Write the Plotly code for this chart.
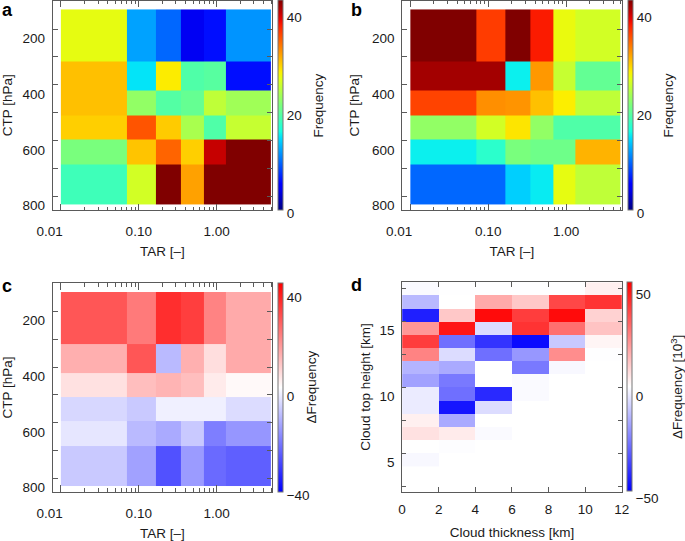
import numpy as np
import plotly.graph_objects as go

W, H = 685, 541

# ---------------- data ----------------
tar_edges = [0.01, 0.07, 0.165, 0.35, 0.68, 1.3, 5.0]
ctp_edges = [130, 317, 421, 508, 595, 684, 826]

# rows: top (low CTP) -> bottom (high CTP); columns: TAR bins
freq_a = [
    [25.7, 10.8, 8.3, 3.1, 4.5, 10.2],
    [29.0, 13.6, 27.0, 17.8, 18.2, 4.5],
    [29.0, 21.3, 18.0, 18.9, 23.6, 22.0],
    [28.3, 33.9, 28.5, 22.5, 17.8, 24.0],
    [20.0, 28.8, 33.2, 28.3, 39.0, 46.0],
    [16.9, 24.6, 43.0, 30.4, 46.0, 47.0],
]
freq_b = [
    [46.0, 35.0, 47.0, 36.5, 25.9, 24.6],
    [40.3, 40.3, 14.1, 30.8, 24.0, 18.8],
    [34.7, 31.2, 31.0, 29.0, 26.9, 23.6],
    [21.3, 24.6, 27.3, 21.3, 17.8, 17.8],
    [14.1, 15.9, 20.0, 19.4, 19.4, 29.6],
    [8.3, 8.3, 12.7, 13.9, 25.7, 23.6],
]
dfreq_c = [
    [28.0, 22.0, 34.6, 32.0, 20.6, 14.0],
    [13.2, 28.0, -11.5, 13.0, 5.4, 14.0],
    [5.0, 10.7, 12.4, 10.7, 3.3, 1.0],
    [-6.6, -9.0, -2.5, -2.5, -2.5, -5.8],
    [-4.1, -11.5, -14.0, -9.0, -21.4, -17.3],
    [-9.0, -15.6, -28.8, -16.5, -24.7, -26.4],
]

thick_edges = [0, 2, 4, 6, 8, 10, 12]
cth_edges = [4, 5, 6, 7, 8, 9, 10, 11, 12, 13, 14, 15, 16, 17, 18]
# rows listed from top (17-18 km) to bottom (4-5 km)
dfreq_d_top_down = [
    [-1.0, -0.3, -0.3, -0.3, -0.3, 3.0],
    [-14, 0, 17, 11, 37, 41],
    [-45, 11, 49, 39, 49, 9],
    [21, 47, -7, 41, 29, 12],
    [39, -29, -41, -49, -11, 2],
    [25, -7, -29, -21, 23, -0.3],
    [-15, -17, 0, -27, -1.4, None],
    [-19, -27, 0, -1, None, None],
    [-4, -29, -43, -1, None, None],
    [-4, -47, -7, None, None, None],
    [3, -17, None, None, None, None],
    [6, 4, -1, None, None, None],
    [0, -0.5, None, None, None, None],
    [-1.5, None, None, None, None, None],
]
dfreq_d = dfreq_d_top_down[::-1]

tar_ticks = [0.01, 0.1, 1.0]
tar_ticktext = ["0.01", "0.10", "1.00"]
tar_minor = [0.02, 0.03, 0.04, 0.05, 0.06, 0.07, 0.08, 0.09,
             0.2, 0.3, 0.4, 0.5, 0.6, 0.7, 0.8, 0.9, 2, 3, 4, 5]
ctp_ticks = [200, 400, 600, 800]
ctp_minor = [300, 500, 700]

# ---------------- styles ----------------
def jet_scale(n=33):
    def seg(t, pts):
        xs = [p[0] for p in pts]; ys = [p[1] for p in pts]
        return float(np.interp(t, xs, ys))
    R = [(0, 0), (0.35, 0), (0.66, 1), (0.89, 1), (1, 0.5)]
    G = [(0, 0), (0.125, 0), (0.375, 1), (0.64, 1), (0.91, 0), (1, 0)]
    B = [(0, 0.5), (0.11, 1), (0.34, 1), (0.65, 0), (1, 0)]
    out = []
    for t in np.linspace(0, 1, n):
        out.append([float(t), "rgb(%d,%d,%d)" % (round(255 * seg(t, R)), round(255 * seg(t, G)), round(255 * seg(t, B)))])
    return out

JET = jet_scale()
BWR = [[0, "rgb(0,0,255)"], [0.5, "rgb(255,255,255)"], [1, "rgb(255,0,0)"]]

FONT = "Liberation Sans, Arial, Helvetica, sans-serif"
FS = 13.5
TXT = "#1a1a1a"
LINE = "#5a5a5a"
NBSP = "\u00a0"

def px2x(p):
    return p / W

def px2y(p):
    return 1 - p / H

fig = go.Figure()

def colorbar(x_px, top_px, bot_px, title, tickvals, ticktext, pad=2):
    return dict(
        x=px2x(x_px), xanchor="left", xpad=0,
        y=px2y(top_px), yanchor="top", ypad=0,
        len=bot_px - top_px, lenmode="pixels",
        thickness=5, thicknessmode="pixels",
        outlinewidth=1, outlinecolor="#777",
        ticks="", tickvals=tickvals, ticktext=[t + NBSP * pad for t in ticktext],
        ticklabelposition="outside bottom",
        tickfont=dict(family=FONT, size=FS, color=TXT),
        title=dict(text=title, side="right", font=dict(family=FONT, size=FS, color=TXT)),
    )

# panel a
fig.add_trace(go.Heatmap(x=tar_edges, y=ctp_edges, z=freq_a, colorscale=JET,
                         zmin=-1.4, zmax=41.6, xaxis="x", yaxis="y",
                         colorbar=colorbar(278.3, 0.5, 210.7, "Frequency", [0, 20, 40], ["0", "20", "40"])))
# panel b
fig.add_trace(go.Heatmap(x=tar_edges, y=ctp_edges, z=freq_b, colorscale=JET,
                         zmin=-1.4, zmax=41.6, xaxis="x2", yaxis="y2",
                         colorbar=colorbar(627.7, 0.5, 210.7, "Frequency", [0, 20, 40], ["0", "20", "40"])))
# panel c
fig.add_trace(go.Heatmap(x=tar_edges, y=ctp_edges, z=dfreq_c, colorscale=BWR,
                         zmin=-42.2, zmax=42.2, xaxis="x3", yaxis="y3",
                         colorbar=colorbar(278.3, 282.7, 491.7, "ΔFrequency", [-40, 0, 40], ["\u221240", "0", "40"])))
# panel d
fig.add_trace(go.Heatmap(x=thick_edges, y=cth_edges, z=dfreq_d, colorscale=BWR,
                         zmin=-51.3, zmax=51.3, xaxis="x4", yaxis="y4", hoverongaps=False,
                         colorbar=colorbar(627.3, 282.3, 491.7, "ΔFrequency [10<sup>3</sup>]", [-50, 0, 50],
                                           ["\u221250", "0", "50"], pad=6)))

def base_axis(**kw):
    d = dict(showline=True, linecolor=LINE, linewidth=1, mirror="ticks",
             ticks="inside", tickcolor=LINE, tickwidth=1,
             showgrid=False, zeroline=False,
             tickfont=dict(family=FONT, size=FS, color=TXT),
             automargin=False)
    d.update(kw)
    return d

def tar_axis(dom_px, anchor, title_standoff):
    texts = [tar_ticktext[0] + NBSP * 6] + tar_ticktext[1:]
    return base_axis(type="log", domain=[px2x(dom_px[0]), px2x(dom_px[1])],
                     range=[-2.106, 0.712], anchor=anchor,
                     tickmode="array", tickvals=tar_ticks, ticktext=texts,
                     ticklen=6.5,
                     minor=dict(tickmode="array", tickvals=tar_minor, ticks="inside", ticklen=3.3, tickcolor=LINE),
                     ticklabelstandoff=9,
                     title=dict(text="TAR [\u2013]", standoff=title_standoff, font=dict(family=FONT, size=FS, color=TXT)))

def ctp_axis(dom_px, anchor):
    return base_axis(domain=[px2y(dom_px[1]), px2y(dom_px[0])], anchor=anchor,
                     range=[847.6, 98.7],
                     tickmode="array", tickvals=ctp_ticks, ticktext=[str(v) for v in ctp_ticks],
                     ticklen=5,
                     minor=dict(tickmode="array", tickvals=ctp_minor, ticks="inside", ticklen=5, tickcolor=LINE),
                     ticklabelshift=-9, ticklabelstandoff=4,
                     title=dict(text="CTP [hPa]", standoff=9, font=dict(family=FONT, size=FS, color=TXT)))

fig.update_layout(
    width=W, height=H, margin=dict(l=0, r=0, t=0, b=0),
    paper_bgcolor="white", plot_bgcolor="white",
    font=dict(family=FONT, size=FS, color=TXT),
    xaxis=tar_axis((52.7, 272.5), "y", 8),
    yaxis=ctp_axis((0.7, 210.0), "x"),
    xaxis2=tar_axis((402.7, 622.5), "y2", 8),
    yaxis2=ctp_axis((0.7, 210.0), "x2"),
    xaxis3=tar_axis((52.7, 272.5), "y3", 9),
    yaxis3=ctp_axis((283.3, 491.7), "x3"),
    xaxis4=base_axis(domain=[px2x(402.7), px2x(622.7)], anchor="y4", range=[0, 12],
                     tickmode="array", tickvals=[0, 2, 4, 6, 8, 10, 12], ticklen=5,
                     ticklabelstandoff=5,
                     title=dict(text="Cloud thickness [km]", standoff=11, font=dict(family=FONT, size=FS, color=TXT))),
    yaxis4=base_axis(domain=[px2y(491.7), px2y(282.3)], anchor="x4", range=[2.08, 18.0],
                     tickmode="array", tickvals=[5, 10, 15], ticklen=4,
                     minor=dict(tickmode="array", tickvals=[2.5, 7.5, 12.5, 17.5], ticks="inside", ticklen=4, tickcolor=LINE),
                     ticklabelshift=9, ticklabelstandoff=4,
                     title=dict(text="Cloud top height [km]", standoff=5, font=dict(family=FONT, size=FS, color=TXT))),
    showlegend=False,
)

for letter, xp, yp in [("a", 0, -2), ("b", 350, -2), ("c", 0, 274), ("d", 350, 273)]:
    fig.add_annotation(text="<b>%s</b>" % letter, x=px2x(xp), y=px2y(yp), xref="paper", yref="paper",
                       xanchor="left", yanchor="top", showarrow=False,
                       font=dict(family=FONT, size=18, color="black"))

fig.write_html("out.html", config={"displayModeBar": False},
               post_script="document.body.style.margin='0';document.body.style.overflow='hidden';")
